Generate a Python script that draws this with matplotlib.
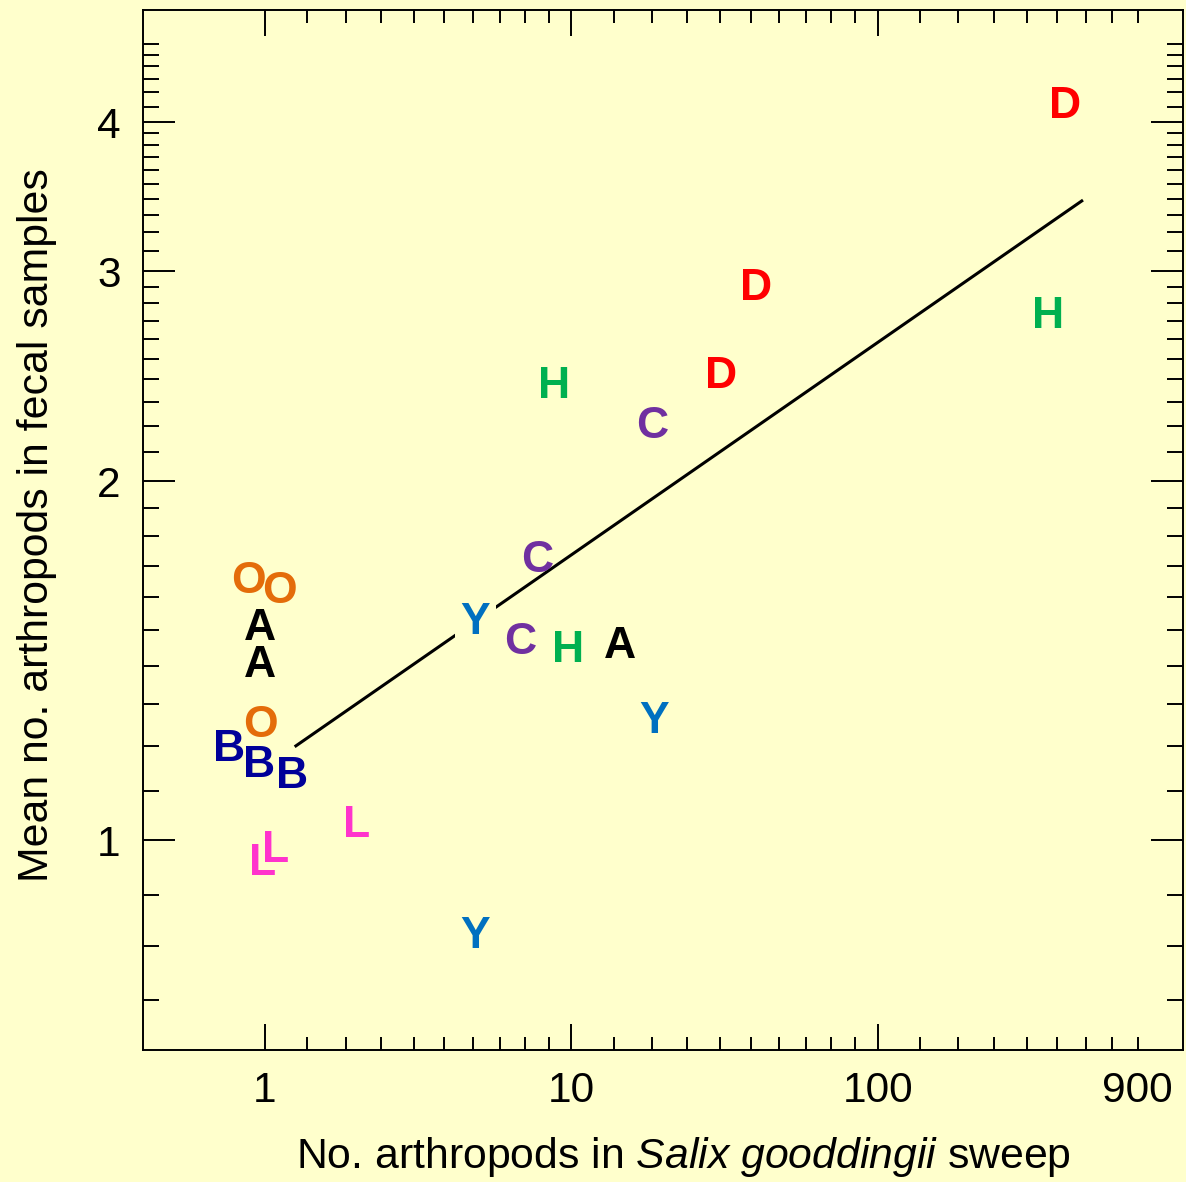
import numpy as np
import matplotlib
matplotlib.use("Agg")
import matplotlib.pyplot as plt
from matplotlib.ticker import FixedLocator, FuncFormatter, NullFormatter

plt.rcParams["font.family"] = ["Liberation Sans", "DejaVu Sans"]
plt.rcParams["mathtext.fontset"] = "custom"
plt.rcParams["mathtext.rm"] = "Liberation Sans"
plt.rcParams["mathtext.it"] = "Liberation Sans:italic"

BG = "#FFFFCC"

# one letter per site/date, x = arthropods in sweep, y = mean arthropods in fecal samples
point_site = ["D", "D", "D", "H", "H", "H", "C", "C", "C", "Y", "Y", "Y",
              "A", "A", "A", "O", "O", "O", "B", "B", "B", "L", "L", "L"]
point_x = [407, 40, 30.7, 359, 8.75, 9.75, 18.3, 7.72, 6.78, 4.86, 18.56, 4.86,
           0.961, 0.961, 14.4, 0.88, 1.117, 0.966, 0.761, 0.954, 1.225, 1.99, 1.081, 0.985]
point_y = [4.163, 2.927, 2.469, 2.772, 2.423, 1.454, 2.242, 1.733, 1.477, 1.536, 1.268, 0.838,
           1.519, 1.415, 1.468, 1.664, 1.630, 1.260, 1.201, 1.166, 1.141, 1.037, 0.990, 0.965]

sites = ["D", "H", "C", "Y", "A", "O", "B", "L"]
site_colors = ["#FF0000", "#00B050", "#7030A0", "#0070C0", "#000000", "#E46C0A", "#000099", "#FF33CC"]

# fitted power-law line (end points)
fit_x = [1.25, 467]
fit_y = [1.198, 3.443]

x_major = [1, 10, 100]
y_major = [1, 2, 3, 4]
label_900_at = 100 * 10 ** np.log2(1.8)


def pseudo_minors(lo, hi, count):
    # the original repeats the 1.1 .. 1.9 spacing inside every interval
    frac = np.log2(1 + np.arange(1, count + 1) / 10)
    return list(lo * (hi / lo) ** frac)


x_minor = pseudo_minors(1, 10, 9) + pseudo_minors(10, 100, 9) + pseudo_minors(100, 1000, 8)
y_minor = ([0.735, 0.815, 0.9] + pseudo_minors(1, 2, 9) + pseudo_minors(2, 3, 9)
           + pseudo_minors(3, 4, 9) + pseudo_minors(4, 5, 6))

fig = plt.figure(figsize=(11.86, 11.82), dpi=100, facecolor=BG)
ax = fig.add_axes([143 / 1186, 132 / 1182, 1040 / 1186, 1040 / 1182], facecolor=BG)
ax.set_xscale("log")
ax.set_yscale("log")
ax.set_xlim(0.40, 990)
ax.set_ylim(0.667, 4.97)

ax.plot(fit_x, fit_y, color="black", lw=2.2, solid_capstyle="butt", zorder=2)

fs_letter = 32
color_of = dict(zip(sites, site_colors))
for i, (s, x, y) in enumerate(zip(point_site, point_x, point_y)):
    t = ax.annotate(s, (x, y), xytext=(0, -0.36 * fs_letter), textcoords="offset points",
                    ha="center", va="baseline", fontsize=fs_letter, fontweight="bold",
                    color=color_of[s], zorder=3)
    if s == "Y" and i == 9:
        t.set_bbox(dict(boxstyle="square,pad=0.12", facecolor=BG, edgecolor="none"))

ax.xaxis.set_major_locator(FixedLocator(x_major))
ax.xaxis.set_minor_locator(FixedLocator(x_minor))
ax.xaxis.set_major_formatter(FuncFormatter(lambda v, p: f"{v:g}"))
ax.xaxis.set_minor_formatter(FuncFormatter(
    lambda v, p: "900" if abs(v - label_900_at) < 1 else ""))
ax.yaxis.set_major_locator(FixedLocator(y_major))
ax.yaxis.set_minor_locator(FixedLocator(y_minor))
ax.yaxis.set_major_formatter(FuncFormatter(lambda v, p: f"{v:g}"))
ax.yaxis.set_minor_formatter(NullFormatter())

ax.tick_params(axis="both", which="both", direction="in", top=True, right=True,
               width=1.4, labelsize=30.5, colors="black")
ax.tick_params(axis="x", which="major", length=18.7, pad=15)
ax.tick_params(axis="x", which="minor", length=9.4, pad=15)
ax.tick_params(axis="y", which="major", length=23, pad=16)
ax.tick_params(axis="y", which="minor", length=11.5)
for sp in ax.spines.values():
    sp.set_linewidth(1.4)

ax.set_xlabel(r"No. arthropods in $\mathit{Salix\ gooddingii}$ sweep", fontsize=30.8)
ax.set_ylabel("Mean no. arthropods in fecal samples", fontsize=30.8)
ax.xaxis.set_label_coords(0.52, -0.082)
ax.yaxis.set_label_coords(-0.083, 0.505)

fig.savefig("out.png", dpi=100, facecolor=BG)
